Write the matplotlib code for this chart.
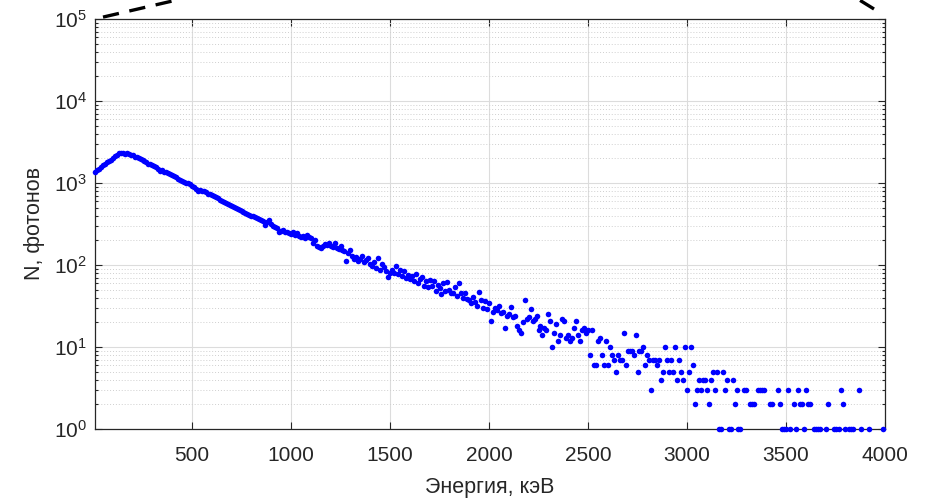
import matplotlib
matplotlib.use('Agg')
import matplotlib.pyplot as plt
import numpy as np
from matplotlib.lines import Line2D

plt.rcParams['font.family'] = ['Liberation Sans', 'DejaVu Sans']
plt.rcParams['mathtext.fontset'] = 'custom'
plt.rcParams['mathtext.rm'] = 'Liberation Sans'
plt.rcParams['mathtext.default'] = 'regular'

# энергия, кэВ (шаг 10 кэВ)
energy = np.arange(10, 4001, 10)

# число фотонов по участкам спектра
counts_0_500 = [1380, 1430, 1500, 1560, 1640, 1700, 1780, 1860, 1930, 2020,
                2110, 2200, 2300, 2350, 2330, 2270, 2310, 2230, 2180, 2200,
                2100, 2060, 1990, 1940, 1890, 1850, 1790, 1720, 1700, 1640,
                1600, 1560, 1480, 1420, 1430, 1380, 1350, 1320, 1290, 1250,
                1210, 1170, 1120, 1100, 1070, 1040, 1000, 990, 960, 930]
counts_500_1000 = [900, 850, 790, 830, 810, 800, 770, 740, 730, 705,
                   700, 670, 650, 625, 600, 590, 575, 555, 540, 525,
                   515, 495, 480, 470, 455, 445, 430, 420, 410, 400,
                   395, 385, 375, 360, 350, 340, 305, 330, 355, 320,
                   300, 290, 285, 255, 260, 265, 255, 250, 245, 240]
counts_1000_1500 = [250, 232, 248, 228, 218, 226, 212, 232, 220, 212,
                    188, 202, 172, 168, 162, 170, 182, 174, 188, 172,
                    168, 185, 162, 158, 172, 152, 148, 112, 140, 152,
                    128, 118, 124, 112, 120, 127, 108, 114, 122, 102,
                    98, 110, 92, 122, 86, 102, 94, 84, 71, 80]
counts_1500_2000 = [88, 80, 96, 78, 86, 74, 84, 70, 76, 68,
                    74, 64, 78, 60, 67, 72, 56, 64, 54, 66,
                    55, 63, 48, 57, 52, 44, 60, 48, 62, 50,
                    46, 45, 54, 42, 60, 46, 40, 45, 39, 37,
                    34, 41, 35, 32, 47, 37, 30, 36, 29, 34]
counts_2000_2500 = [21, 27, 30, 28, 32, 26, 27, 17, 24, 25,
                    31, 23, 24, 18, 16, 15, 20, 37, 22, 23,
                    29, 21, 22, 24, 16, 18, 14, 17, 16, 25,
                    21, 10, 15, 19, 12, 14, 22, 21, 13, 14,
                    12, 13, 17, 21, 14, 12, 16, 17, 15, 16]
counts_2500_3000 = [8, 16, 6, 6, 12, 13, 8, 6, 12, 6,
                    10, 8, 7, 5, 8, 7, 7, 15, 6, 9,
                    9, 9, 8, 14, 5, 9, 9, 10, 6, 8,
                    7, 3, 7, 7, 6, 7, 4, 5, 10, 7,
                    5, 7, 5, 10, 4, 7, 5, 4, 10, 3]
counts_3000_3500 = [5, 10, 6, 2, 3, 4, 3, 4, 4, 3,
                    2, 4, 5, 3, 5, 1, 1, 5, 3, 4,
                    1, 1, 4, 2, 3, 1, 1, 0, 3, 3,
                    0, 2, 2, 2, 0, 3, 3, 3, 3, 0,
                    0, 2, 2, 0, 0, 3, 2, 1, 1, 1]
counts_3500_4000 = [3, 1, 0, 2, 1, 3, 2, 2, 1, 3,
                    2, 2, 0, 1, 1, 1, 1, 0, 0, 1,
                    2, 0, 0, 1, 1, 0, 1, 3, 2, 1,
                    0, 1, 1, 1, 0, 0, 3, 1, 0, 0,
                    0, 1, 0, 0, 0, 0, 0, 0, 1, 0]

counts = np.array(counts_0_500 + counts_500_1000 + counts_1000_1500 +
                  counts_1500_2000 + counts_2000_2500 + counts_2500_3000 +
                  counts_3000_3500 + counts_3500_4000, dtype=float)

x_ticks = [500, 1000, 1500, 2000, 2500, 3000, 3500, 4000]
y_ticks = [1e0, 1e1, 1e2, 1e3, 1e4, 1e5]

W, H = 926, 499
fig = plt.figure(figsize=(W / 100, H / 100), dpi=100)
ax = fig.add_axes([95 / W, 1 - 429 / H, 790 / W, 410 / H])

# нули на логарифмической шкале не рисуются
mask = counts > 0
ax.plot(energy[mask], counts[mask], 'o', color=(0, 0, 1), ms=4.0, mew=0,
        clip_on=False, zorder=3)

ax.set_yscale('log')
ax.set_xlim(10, 4000)
ax.set_ylim(1, 1e5)
ax.set_xticks(x_ticks)
ax.set_yticks(y_ticks)
ax.minorticks_on()
ax.xaxis.set_minor_locator(matplotlib.ticker.NullLocator())

# сетка
ax.grid(True, which='major', color='#dcdcdc', lw=0.8)
ax.grid(True, which='minor', axis='y', color='#cfcfcf', ls=(0, (1, 2)), lw=0.7)
ax.set_axisbelow(True)

dark = '#262626'
ax.tick_params(which='both', direction='in', top=True, right=True,
               colors=dark, labelsize=15, width=0.8)
ax.tick_params(which='major', length=5)
ax.tick_params(which='minor', length=2.5)
ax.tick_params(axis='x', pad=12)
ax.tick_params(axis='y', pad=6)
for s in ax.spines.values():
    s.set_color(dark)
    s.set_linewidth(0.9)

ax.set_xlabel('Энергия, кэВ', fontsize=15.5, color=dark, labelpad=9)
ax.set_ylabel('N, фотонов', fontsize=15.5, color=dark, labelpad=6)

# штриховые линии к верхнему графику
fig.add_artist(Line2D([103 / W, 200 / W], [1 - 17.1 / H, 1 + 5.4 / H],
                      transform=fig.transFigure, color='k', lw=2.4,
                      ls=(0, (4.9, 3.2)), clip_on=False))
fig.add_artist(Line2D([874 / W, 840 / W], [1 - 9 / H, 1 + 12 / H],
                      transform=fig.transFigure, color='k', lw=2.4,
                      ls=(0, (4.9, 3.2)), clip_on=False))

fig.savefig('out.png', dpi=100)
